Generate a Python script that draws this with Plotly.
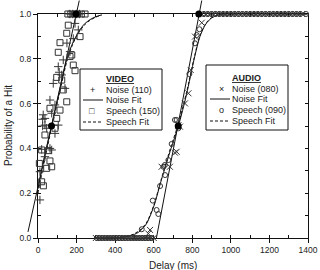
import plotly.graph_objects as go

# ---------------- data ----------------
# VIDEO, noise (+)
video_noise_x = [165, 180, 200, 215, 192, 209, 183, 166, 131, 105, 123, 79, 140, 62, 88, 36, 71, 24, 45,
                 24, 36, 105, 88, 19, 62, 36, 10, 10, 71, 150, 110, 27]
video_noise_y = [1.0, 1.0, 1.0, 1.0, 0.958, 0.929, 0.89, 0.832, 0.795, 0.765, 0.728, 0.69, 0.668, 0.616, 0.594, 0.534, 0.557, 0.5, 0.49,
                 0.53, 0.504, 0.504, 0.467, 0.396, 0.4, 0.363, 0.296, 0.17, 0.393, 0.87, 0.74, 0.55]
# VIDEO, speech (squares)
video_speech_x = [155, 170, 190, 205, 225, 244, 157, 149, 114, 218, 105, 175, 183, 192, 97, 123, 131, 149, 62, 114, 97,
                  7, 19, 53, 62, 45, 71, 19, 28, 36, 88, 166]
video_speech_y = [1.0, 1.0, 1.0, 1.0, 1.0, 1.0, 0.95, 0.914, 0.872, 0.899, 0.829, 0.817, 0.772, 0.747, 0.717, 0.705, 0.661, 0.608, 0.579, 0.571, 0.534,
                  0.333, 0.393, 0.39, 0.344, 0.311, 0.318, 0.251, 0.233, 0.46, 0.49, 0.81]
# VIDEO fits
video_noisefit_x = [0, 30, 70, 110, 150, 180, 210, 240, 270, 300, 330]
video_noisefit_y = [0.22, 0.35, 0.5, 0.65, 0.8, 0.87, 0.92, 0.955, 0.975, 0.988, 0.996]
video_speechfit_x = [0, 35, 70, 110, 150, 180, 210, 240, 270, 300, 330]
video_speechfit_y = [0.2, 0.35, 0.49, 0.64, 0.79, 0.865, 0.915, 0.95, 0.972, 0.986, 0.995]
video_slope_x = [-52, 214]
video_slope_y = [0.027, 1.06]
video_key_x = [70, 197]
video_key_y = [0.5, 1.0]

# AUDIO, noise (x)
audio_noise_x = [300, 315, 330, 345, 360, 375, 390, 405, 420, 435, 450, 465, 480, 495, 510, 525, 540, 555, 570, 585, 600,
                 849, 814, 792, 780, 762, 728, 736, 710, 719, 684, 641, 581, 572,
                 850, 870, 890, 910, 930, 950, 970, 990, 1010, 1030, 1050, 1070, 1090, 1110, 1130, 1150, 1170, 1190,
                 1210, 1230, 1250, 1270, 1290, 1310, 1330, 1350, 1370]
audio_noise_y = [0] * 21 + [0.961, 0.899, 0.75, 0.646, 0.601, 0.504, 0.497, 0.381, 0.385, 0.318, 0.318, 0.036, 0.02] + [1.0] * 27
# AUDIO, speech (o)
audio_speech_x = [305, 320, 335, 350, 365, 380, 395, 410, 425, 440, 455, 470, 485, 500, 515, 530, 545, 560, 575, 590,
                  837, 823, 814, 785, 710, 728, 719, 693, 633, 595, 624, 615, 538, 658, 676, 650, 659,
                  860, 880, 900, 920, 940, 960, 980, 1000, 1020, 1040, 1060, 1080, 1100, 1120, 1140, 1160, 1180,
                  1200, 1220, 1240, 1260, 1280, 1300, 1320, 1340, 1360, 1390]
audio_speech_y = [0] * 20 + [0.932, 0.906, 0.869, 0.732, 0.527, 0.49, 0.527, 0.42, 0.232, 0.167, 0.107, 0.125, 0.039,
                             0.326, 0.348, 0.318, 0.281] + [1.0] * 27
# AUDIO fits
audio_noisefit_x = [300, 420, 480, 520, 560, 600, 640, 690, 728, 770, 810, 840, 870, 900, 930, 960, 1000, 1400]
audio_noisefit_y = [0, 0.002, 0.01, 0.025, 0.06, 0.14, 0.26, 0.4, 0.5, 0.64, 0.8, 0.9, 0.955, 0.982, 0.994, 0.999, 1.0, 1.0]
audio_speechfit_x = [300, 420, 480, 520, 560, 600, 640, 690, 728, 770, 810, 840, 870, 900, 930, 960, 1000, 1400]
audio_speechfit_y = [0, 0.003, 0.012, 0.03, 0.065, 0.145, 0.265, 0.41, 0.51, 0.65, 0.805, 0.905, 0.958, 0.984, 0.995, 0.999, 1.0, 1.0]
audio_slope_x = [614, 849]
audio_slope_y = [0.0, 1.06]
audio_key_x = [727, 834]
audio_key_y = [0.5, 1.0]

x_ticks = [0, 200, 400, 600, 800, 1000, 1200, 1400]
y_ticks = [0.0, 0.2, 0.4, 0.6, 0.8, 1.0]

# ---------------- geometry ----------------
W, H = 320, 270
L, R, T, B = 38, 308, 14, 238
X0, X1 = 0, 1400
Y0, Y1 = 0.0, 1.0
kx = (R - L) / (X1 - X0)
ky = (B - T) / (Y1 - Y0)

def px(x):
    return x / W

def py(y):
    return 1 - y / H

FONT = "Liberation Sans, Arial, sans-serif"
INK = "#111111"

fig = go.Figure()

def scat(x, y, **kw):
    fig.add_trace(go.Scatter(x=x, y=y, xaxis="x2", yaxis="y2", showlegend=False,
                             hoverinfo="skip", cliponaxis=False, **kw))

# fits
scat(video_slope_x, video_slope_y, mode="lines", line=dict(color=INK, width=1))
scat(video_noisefit_x, video_noisefit_y, mode="lines", line=dict(color=INK, width=1, shape="spline", smoothing=0.8))
scat(video_speechfit_x, video_speechfit_y, mode="lines", line=dict(color=INK, width=1, dash="3px,2px", shape="spline", smoothing=0.8))
scat(audio_slope_x, audio_slope_y, mode="lines", line=dict(color=INK, width=1))
scat(audio_noisefit_x, audio_noisefit_y, mode="lines", line=dict(color=INK, width=1, shape="spline", smoothing=0.8))
scat(audio_speechfit_x, audio_speechfit_y, mode="lines", line=dict(color=INK, width=1, dash="3px,2px", shape="spline", smoothing=0.8))

# points
MK = "#333333"
scat(video_speech_x, video_speech_y, mode="markers",
     marker=dict(symbol="square-open", size=6, color=MK, line=dict(width=1, color=MK)))
scat(video_noise_x, video_noise_y, mode="markers",
     marker=dict(symbol="cross-thin", size=6, color=MK, line=dict(width=1, color=MK)))
scat(audio_speech_x, audio_speech_y, mode="markers",
     marker=dict(symbol="circle-open", size=5, color=MK, line=dict(width=1, color=MK)))
scat(audio_noise_x, audio_noise_y, mode="markers",
     marker=dict(symbol="x-thin", size=6, color=MK, line=dict(width=1, color=MK)))
scat(video_key_x + audio_key_x, video_key_y + audio_key_y, mode="markers",
     marker=dict(symbol="circle", size=7, color="black"))

# dummy traces so frame axes exist
fig.add_trace(go.Scatter(x=[0], y=[0], xaxis="x", yaxis="y", mode="markers",
                         marker=dict(opacity=0), showlegend=False, hoverinfo="skip"))
fig.add_trace(go.Scatter(x=[0], y=[0], xaxis="x3", yaxis="y3", mode="markers",
                         marker=dict(opacity=0), showlegend=False, hoverinfo="skip"))

common = dict(showgrid=False, zeroline=False, automargin=False, fixedrange=True)
tickfont = dict(family=FONT, size=8.5, color="#222222")

fig.update_layout(
    width=W, height=H,
    margin=dict(l=0, r=0, t=0, b=0),
    paper_bgcolor="white", plot_bgcolor="rgba(0,0,0,0)",
    showlegend=False,
    xaxis=dict(domain=[px(L), px(R)], range=[X0, X1], anchor="y",
               showline=True, linecolor=INK, linewidth=1, mirror=True,
               ticks="outside", ticklen=4, tickwidth=1, tickcolor=INK,
               tickvals=x_ticks, ticktext=[str(v) for v in x_ticks],
               tickfont=tickfont, **common),
    yaxis=dict(domain=[py(B), py(T)], range=[Y0, Y1], anchor="x",
               showline=True, linecolor=INK, linewidth=1, mirror=True,
               ticks="outside", ticklen=4, tickwidth=1, tickcolor=INK,
               tickvals=y_ticks, ticktext=[f"{v:.1f}" for v in y_ticks],
               tickfont=tickfont, **common),
    xaxis3=dict(overlaying="x", anchor="y", range=[X0, X1], showline=False,
                ticks="inside", ticklen=3, tickwidth=1, tickcolor=INK, dtick=100, tick0=0,
                mirror="allticks", showticklabels=False, **common),
    yaxis3=dict(overlaying="y", anchor="x", range=[Y0, Y1], showline=False,
                ticks="inside", ticklen=3, tickwidth=1, tickcolor=INK, dtick=0.1, tick0=0,
                mirror="allticks", showticklabels=False, **common),
    xaxis2=dict(domain=[0, 1], anchor="y2", range=[X0 - L / kx, X0 + (W - L) / kx],
                visible=False, **common),
    yaxis2=dict(domain=[0, 1], anchor="x2", range=[Y0 - (H - B) / ky, Y0 + B / ky],
                visible=False, **common),
)

ann = []
shapes = []
# axis titles
ann.append(dict(x=px(173), y=py(265), xref="paper", yref="paper", text="Delay (ms)",
                showarrow=False, font=dict(family=FONT, size=10, color="#222222"),
                xanchor="center", yanchor="middle"))
ann.append(dict(x=px(8), y=py(126), xref="paper", yref="paper", text="Probability of a Hit",
                showarrow=False, textangle=-90, font=dict(family=FONT, size=10, color="#222222"),
                xanchor="center", yanchor="middle"))

# manual legends
def legend(box, title, rows, sym_x, line_x0, line_x1, text_x):
    x0, y0, x1, y1 = box
    shapes.append(dict(type="rect", xref="paper", yref="paper", x0=px(x0), x1=px(x1),
                       y0=py(y1), y1=py(y0), line=dict(color=INK, width=1),
                       fillcolor="white", layer="above"))
    f = dict(family=FONT, size=9, color="#222222")
    ann.append(dict(x=px(text_x), y=py(rows[0][0] - 11), xref="paper", yref="paper",
                    text=f"<b><u>{title}</u></b>", showarrow=False, font=f,
                    xanchor="left", yanchor="middle"))
    for yy, kind, label in rows:
        if kind in ("solid", "dash"):
            shapes.append(dict(type="line", xref="paper", yref="paper", x0=px(line_x0), x1=px(line_x1),
                               y0=py(yy), y1=py(yy), layer="above",
                               line=dict(color=INK, width=1, dash="solid" if kind == "solid" else "3px,2px")))
        else:
            ann.append(dict(x=px(sym_x), y=py(yy), xref="paper", yref="paper", text=kind,
                            showarrow=False, font=dict(family=FONT, size=9, color="#222222"),
                            xanchor="center", yanchor="middle"))
        ann.append(dict(x=px(text_x), y=py(yy), xref="paper", yref="paper", text=label,
                        showarrow=False, font=f, xanchor="left", yanchor="middle"))

legend((80, 69, 162, 130), "VIDEO",
       [(90, "+", "Noise (110)"), (100, "solid", "Noise Fit"),
        (111, "□", "Speech (150)"), (122, "dash", "Speech Fit")],
       sym_x=92, line_x0=83, line_x1=103, text_x=104)
legend((206, 65, 288, 130), "AUDIO",
       [(89, "×", "Noise (080)"), (99, "solid", "Noise Fit"),
        (110, "o", "Speech (090)"), (121, "dash", "Speech Fit")],
       sym_x=221, line_x0=210, line_x1=230, text_x=230)

fig.update_layout(annotations=ann, shapes=shapes)
fig.write_html("out.html")
